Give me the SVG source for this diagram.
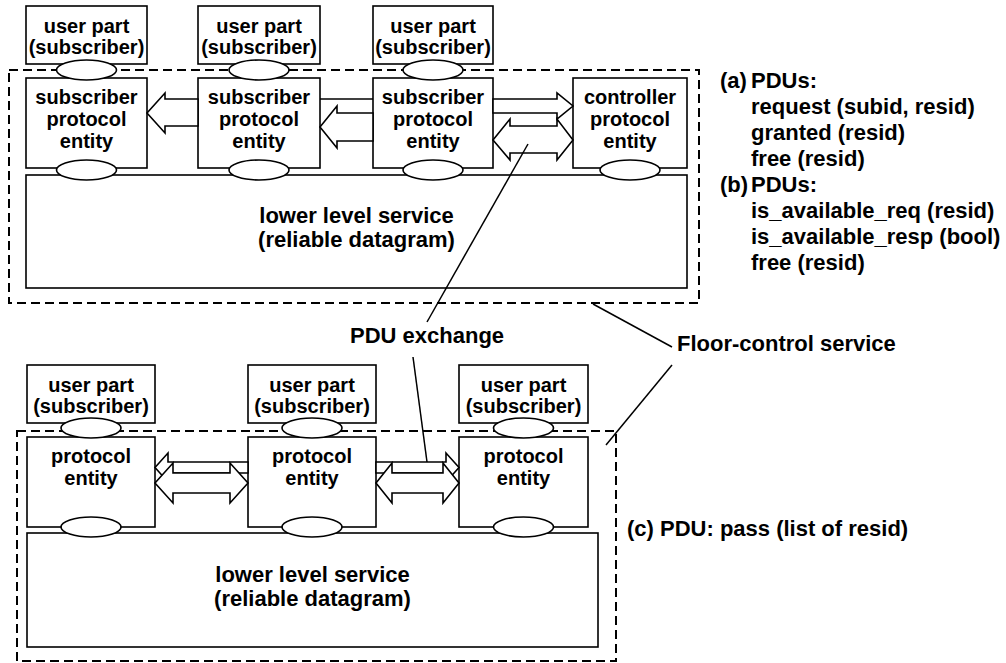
<svg xmlns="http://www.w3.org/2000/svg" width="1006" height="663" viewBox="0 0 1006 663">
  <style>
    .box { fill: #fff; stroke: #000; stroke-width: 1.6; }
    .frame { fill: none; stroke: #000; stroke-width: 2; stroke-dasharray: 9 5; }
    .port { fill: #fff; stroke: #000; stroke-width: 1.6; }
    .arrow { fill: #fff; stroke: #000; stroke-width: 1.6; stroke-linejoin: miter; }
    .lead { fill: none; stroke: #000; stroke-width: 1.5; }
    text { font-family: "Liberation Sans", Arial, Helvetica, sans-serif; font-weight: bold; fill: #000; }
    .c { font-size: 20px; text-anchor: middle; }
    .s { font-size: 22px; text-anchor: middle; }
    .l { font-size: 22px; }
  </style>

  <!-- service boundaries -->
  <g id="frames">
    <rect class="frame" x="9" y="70" width="690" height="233"/>
    <rect class="frame" x="17" y="431" width="599" height="230"/>
  </g>

  <!-- ===== centralized variant ===== -->
  <g id="lls-top">
    <rect class="box" x="26" y="175" width="661" height="113"/>
    <text class="s" x="356.5" y="223">lower level service</text>
    <text class="s" x="356.5" y="247">(reliable datagram)</text>
  </g>

  <g id="user-a1">
    <rect class="box" x="26" y="6" width="121" height="58"/>
    <text class="c" x="86.5" y="33">user part</text>
    <text class="c" x="86.5" y="54">(subscriber)</text>
  </g>
  <g id="user-a2">
    <rect class="box" x="198" y="6" width="122" height="58"/>
    <text class="c" x="259" y="33">user part</text>
    <text class="c" x="259" y="54">(subscriber)</text>
  </g>
  <g id="user-a3">
    <rect class="box" x="373" y="6" width="120" height="58"/>
    <text class="c" x="433" y="33">user part</text>
    <text class="c" x="433" y="54">(subscriber)</text>
  </g>

  <g id="spe-1">
    <rect class="box" x="26" y="78" width="121" height="90"/>
    <text class="c" x="86.5" y="104">subscriber</text>
    <text class="c" x="86.5" y="126">protocol</text>
    <text class="c" x="86.5" y="148">entity</text>
  </g>
  <g id="spe-2">
    <rect class="box" x="198" y="78" width="122" height="90"/>
    <text class="c" x="259" y="104">subscriber</text>
    <text class="c" x="259" y="126">protocol</text>
    <text class="c" x="259" y="148">entity</text>
  </g>
  <g id="spe-3">
    <rect class="box" x="373" y="78" width="120" height="90"/>
    <text class="c" x="433" y="104">subscriber</text>
    <text class="c" x="433" y="126">protocol</text>
    <text class="c" x="433" y="148">entity</text>
  </g>
  <g id="cpe">
    <rect class="box" x="573" y="78" width="114" height="90"/>
    <text class="c" x="630" y="104">controller</text>
    <text class="c" x="630" y="126">protocol</text>
    <text class="c" x="630" y="148">entity</text>
  </g>

  <!-- ===== distributed variant ===== -->
  <g id="lls-bottom">
    <rect class="box" x="27" y="533" width="571" height="114"/>
    <text class="s" x="312.5" y="582">lower level service</text>
    <text class="s" x="312.5" y="606">(reliable datagram)</text>
  </g>

  <g id="user-c1">
    <rect class="box" x="27" y="365" width="128" height="58"/>
    <text class="c" x="91" y="392">user part</text>
    <text class="c" x="91" y="413">(subscriber)</text>
  </g>
  <g id="user-c2">
    <rect class="box" x="248" y="365" width="128" height="58"/>
    <text class="c" x="312" y="392">user part</text>
    <text class="c" x="312" y="413">(subscriber)</text>
  </g>
  <g id="user-c3">
    <rect class="box" x="459" y="365" width="129" height="58"/>
    <text class="c" x="523.5" y="392">user part</text>
    <text class="c" x="523.5" y="413">(subscriber)</text>
  </g>

  <g id="pe-1">
    <rect class="box" x="27" y="437" width="128" height="90"/>
    <text class="c" x="91" y="463">protocol</text>
    <text class="c" x="91" y="485">entity</text>
  </g>
  <g id="pe-2">
    <rect class="box" x="248" y="437" width="128" height="90"/>
    <text class="c" x="312" y="463">protocol</text>
    <text class="c" x="312" y="485">entity</text>
  </g>
  <g id="pe-3">
    <rect class="box" x="459" y="437" width="129" height="90"/>
    <text class="c" x="523.5" y="463">protocol</text>
    <text class="c" x="523.5" y="485">entity</text>
  </g>

  <!-- PDU flows between protocol entities -->
  <g id="connectors">
    <polygon class="arrow" points="198,99 165,99 165,93 147,113 165,133 165,126 198,126"/>
    <line class="lead" x1="320" y1="99" x2="373" y2="99"/>
    <polygon class="arrow" points="373,113 337,113 337,106 320,127 337,148 337,141 373,141"/>
    <polygon class="arrow" points="493,99 557,99 557,93 573,106 557,119 557,113 493,113"/>
    <polygon class="arrow" points="493,140 510,119 510,126 557,126 557,119 573,140 557,160 557,153 510,153 510,160"/>

    <polygon class="arrow" points="248,462 168,462 168,453 155,467.5 168,482 168,473 248,473"/>
    <polygon class="arrow" points="155,483 173,463 173,473 230,473 230,463 248,483 230,503 230,493 173,493 173,503"/>
    <polygon class="arrow" points="376,462 446,462 446,453 459,467.5 446,482 446,473 376,473"/>
    <polygon class="arrow" points="376,483 392,463 392,473 443,473 443,463 459,483 443,503 443,493 392,493 392,503"/>

    <!-- label leaders -->
    <line class="lead" x1="528" y1="144" x2="427" y2="322"/>
    <line class="lead" x1="413" y1="357" x2="427" y2="462"/>
    <line class="lead" x1="593" y1="304" x2="672" y2="347"/>
    <line class="lead" x1="672" y1="365" x2="606" y2="445"/>
  </g>

  <!-- service access points -->
  <g id="ports">
    <ellipse class="port" cx="86.5" cy="70" rx="30" ry="10"/>
    <ellipse class="port" cx="259" cy="70" rx="30" ry="10"/>
    <ellipse class="port" cx="433" cy="70" rx="30" ry="10"/>
    <ellipse class="port" cx="86.5" cy="170" rx="30" ry="10"/>
    <ellipse class="port" cx="259" cy="170" rx="30" ry="10"/>
    <ellipse class="port" cx="433" cy="170" rx="30" ry="10"/>
    <ellipse class="port" cx="630" cy="170" rx="30" ry="10"/>

    <ellipse class="port" cx="91" cy="428" rx="30" ry="10"/>
    <ellipse class="port" cx="312" cy="428" rx="30" ry="10"/>
    <ellipse class="port" cx="523.5" cy="428" rx="30" ry="10"/>
    <ellipse class="port" cx="91" cy="527" rx="30" ry="10"/>
    <ellipse class="port" cx="312" cy="527" rx="30" ry="10"/>
    <ellipse class="port" cx="523.5" cy="527" rx="30" ry="10"/>
  </g>

  <!-- annotations -->
  <g id="labels">
    <text class="l" x="350" y="343">PDU exchange</text>
    <text class="l" x="677" y="351">Floor-control service</text>
    <text class="l" x="627" y="536">(c) PDU: pass (list of resid)</text>

    <text class="l" x="720" y="88">(a)</text>
    <text class="l" x="751" y="88">PDUs:</text>
    <text class="l" x="751" y="114">request (subid, resid)</text>
    <text class="l" x="751" y="140">granted (resid)</text>
    <text class="l" x="751" y="166">free (resid)</text>
    <text class="l" x="720" y="192">(b)</text>
    <text class="l" x="751" y="192">PDUs:</text>
    <text class="l" x="751" y="218">is_available_req (resid)</text>
    <text class="l" x="751" y="244">is_available_resp (bool)</text>
    <text class="l" x="751" y="270">free (resid)</text>
  </g>
</svg>
